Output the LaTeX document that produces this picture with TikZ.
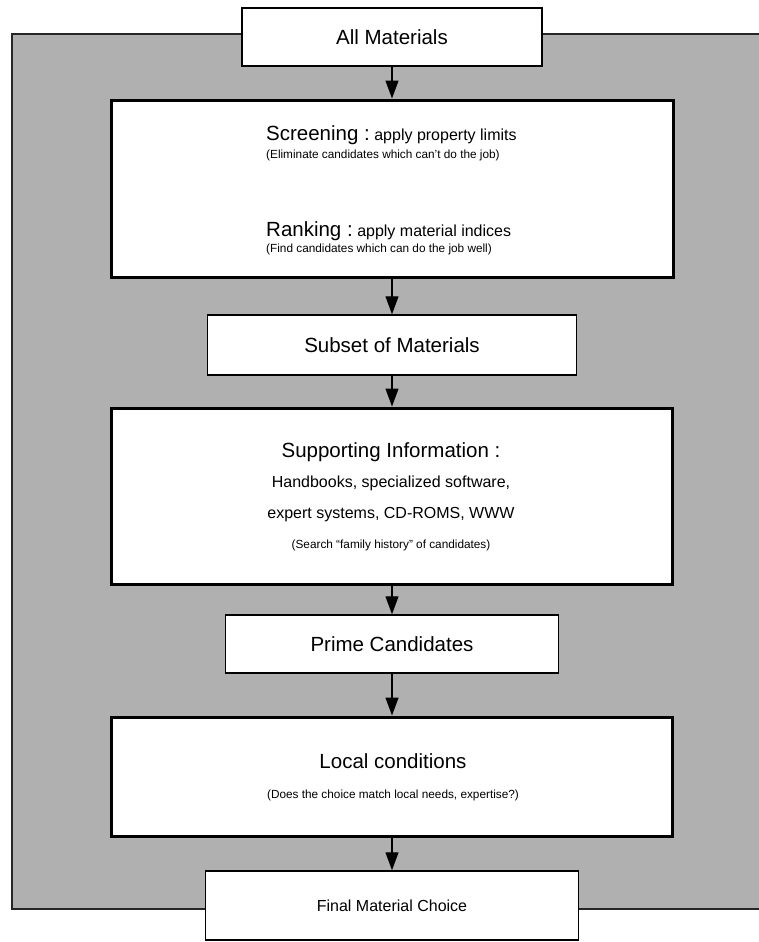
\documentclass[tikz,border=0pt]{standalone}
\usepackage{fontspec}
\setmainfont{Liberation Sans}
\usetikzlibrary{arrows.meta}
\definecolor{panel}{RGB}{176,176,176}
\newcommand\FontBig{\fontsize{20.5}{24}\selectfont}
\newcommand\FontMid{\fontsize{16}{19}\selectfont}
\newcommand\FontSmall{\fontsize{11.8}{14}\selectfont}
\begin{document}
\begin{tikzpicture}[x=1pt,y=-1pt,
  thinbox/.style={draw=black, fill=white, line width=1.5pt, inner sep=0pt},
  thickbox/.style={draw=black, fill=white, line width=3pt, inner sep=0pt},
  lbl/.style={inner sep=0pt},
  arr/.style={line width=1.3pt, -{Triangle[length=18pt,width=13pt]}}]
\useasboundingbox (0,0) rectangle (759,942);
% grey panel
\fill[panel] (12,34) rectangle (759,909);
\draw[line width=1.3pt, black!85] (759,34) -- (12,34) -- (12,909) -- (759,909);
% boxes
\node[thinbox, minimum width=300pt, minimum height=58pt, font=\FontBig] (all) at (392,37) {All Materials};
\node[thickbox, minimum width=562pt, minimum height=177pt] (scr) at (392,188.5) {};
\node[thinbox, minimum width=369pt, minimum height=60pt, font=\FontBig] (sub) at (392,345) {Subset of Materials};
\node[thickbox, minimum width=561pt, minimum height=176pt] (sup) at (392,496) {};
\node[thinbox, minimum width=333pt, minimum height=58pt, font=\FontBig] (pri) at (392,644) {Prime Candidates};
\node[thickbox, minimum width=561pt, minimum height=119pt] (loc) at (392,776.5) {};
\node[thinbox, minimum width=373pt, minimum height=69pt, font=\FontMid] (fin) at (392,905.5) {Final Material Choice};
% texts inside the large boxes
\node[lbl, anchor=base west] (scrA) at (266,140) {{\FontBig Screening :}{\FontMid\ apply property limits}};
\node[lbl, anchor=base west, font=\FontSmall] (scrB) at (266,158) {(Eliminate candidates which can't do the job)};
\node[lbl, anchor=base west] (rnkA) at (266,236) {{\FontBig Ranking :}{\FontMid\ apply material indices}};
\node[lbl, anchor=base west, font=\FontSmall] (rnkB) at (266,252) {(Find candidates which can do the job well)};
\node[lbl, anchor=base, font=\FontBig] (supA) at (391,457) {Supporting Information :};
\node[lbl, anchor=base, font=\FontMid] (supB) at (391,487) {Handbooks, specialized software,};
\node[lbl, anchor=base, font=\FontMid] (supC) at (391,518) {expert systems, CD-ROMS, WWW};
\node[lbl, anchor=base, font=\FontSmall] (supD) at (391,548) {(Search ``family history'' of candidates)};
\node[lbl, anchor=base, font=\FontBig] (locA) at (393,768) {Local conditions};
\node[lbl, anchor=base, font=\FontSmall] (locB) at (393,798) {(Does the choice match local needs, expertise?)};
% connectors
\draw[arr] (all) -- (scr);
\draw[arr] (scr) -- (sub);
\draw[arr] (sub) -- (sup);
\draw[arr] (sup) -- (pri);
\draw[arr] (pri) -- (loc);
\draw[arr] (loc) -- (fin);
\end{tikzpicture}
\end{document}
